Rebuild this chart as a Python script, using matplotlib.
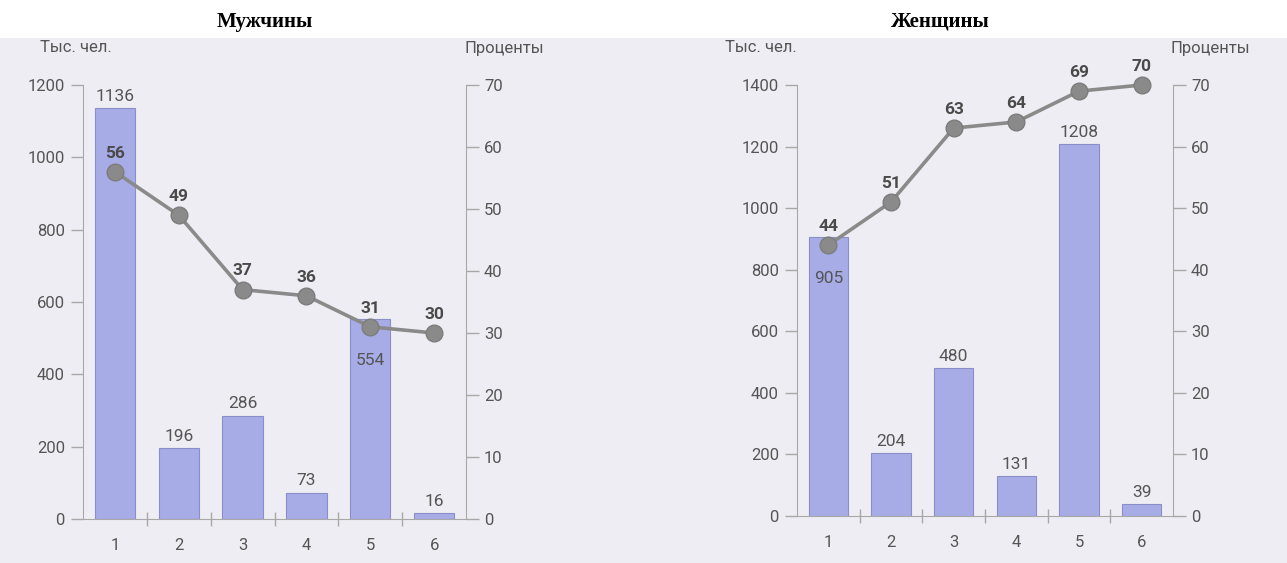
#!/usr/bin/env python3
"""Two-panel bar + line chart: men / women, thousands and percent."""

import matplotlib
matplotlib.use("Agg")
import matplotlib.pyplot as plt
from matplotlib.patches import Rectangle

W, H = 1287, 563

categories = ["1", "2", "3", "4", "5", "6"]

men_thousands = [1136, 196, 286, 73, 554, 16]
men_percent = [56, 49, 37, 36, 31, 30]
men_inside = [False, False, False, False, True, False]

women_thousands = [905, 204, 480, 131, 1208, 39]
women_percent = [44, 51, 63, 64, 69, 70]
women_inside = [True, False, False, False, False, False]

BAR = "#a7ace6"
BAR_EDGE = "#8a8fc8"
LINE = "#8a8a8a"
AXIS = "#a8a8a8"
TXT = "#555555"
BG = "#eeedf3"

FONT = ["Roboto", "DejaVu Sans"]
plt.rcParams["font.family"] = FONT


def px(x0, y_top, x1, y_bot):
    """pixel box -> figure fraction rect"""
    return [x0 / W, 1 - y_bot / H, (x1 - x0) / W, (y_bot - y_top) / H]


def panel(fig, rect, vals, pct, inside, ymax, title, title_x, lab_l, lab_r):
    ax = fig.add_axes(rect)
    ax.set_facecolor("none")
    x = list(range(1, len(vals) + 1))
    ax.bar(x, vals, 0.63, color=BAR, edgecolor=BAR_EDGE, linewidth=0.8, zorder=2)
    ax.set_xlim(0.5, len(vals) + 0.5)
    ax.set_ylim(0, ymax)
    ax.set_yticks(range(0, ymax + 1, 200))
    ax.set_xticks([i + 0.5 for i in x[:-1]])
    ax.set_xticklabels([])
    ax.set_xticks(x, minor=True)
    ax.set_xticklabels(categories, minor=True)
    ax.tick_params(axis="x", which="major", direction="inout", length=10,
                   color=AXIS, width=1)
    ax.tick_params(axis="x", which="minor", length=0, pad=14,
                   labelsize=12, labelcolor=TXT)
    ax.tick_params(axis="y", direction="out", length=9, color=AXIS,
                   width=1, labelsize=12, labelcolor=TXT, pad=4)
    for s in ("top", "right"):
        ax.spines[s].set_visible(False)
    for s in ("left", "bottom"):
        ax.spines[s].set_color(AXIS)

    ax2 = ax.twinx()
    ax2.set_ylim(0, 70)
    ax2.set_yticks(range(0, 71, 10))
    ax2.tick_params(axis="y", direction="out", length=9, color=AXIS,
                    width=1, labelsize=12, labelcolor=TXT, pad=4)
    for s in ("top", "left", "bottom"):
        ax2.spines[s].set_visible(False)
    ax2.spines["right"].set_color(AXIS)
    ax2.plot(x, pct, "-o", color=LINE, linewidth=2.6, markersize=12,
             markerfacecolor=LINE, markeredgecolor="#7c7c7c", zorder=4,
             clip_on=False)

    for xi, v, p, ins in zip(x, vals, pct, inside):
        ax2.annotate(f"{p}", (xi, p), xytext=(0, 8), textcoords="offset points",
                     ha="center", va="bottom", fontsize=12.5,
                     fontweight="bold", color="#4a4a4a")
        if ins:
            ax2.annotate(f"{v}", (xi, p), xytext=(0, -24),
                         textcoords="offset points", ha="center", va="center",
                         fontsize=12.5, color=TXT)
        else:
            ax.annotate(f"{v}", (xi, v), xytext=(0, 3),
                        textcoords="offset points", ha="center", va="bottom",
                        fontsize=12.5, color=TXT)

    fig.text(title_x / W, 1 - 22 / H, title, ha="center", va="center",
             fontsize=15, fontweight="bold", family="Liberation Serif")
    fig.text(lab_l / W, 1 - 48 / H, "Тыс. чел.", ha="left", va="center",
             fontsize=12, color=TXT)
    fig.text(lab_r / W, 1 - 48 / H, "Проценты", ha="left", va="center",
             fontsize=12, color=TXT)
    return ax


def main() -> int:
    fig = plt.figure(figsize=(W / 100, H / 100), dpi=100)
    fig.patch.set_facecolor("white")
    fig.add_artist(Rectangle((0, 0), 1, 1 - 38 / H, transform=fig.transFigure,
                             facecolor=BG, edgecolor="none", zorder=0))

    panel(fig, px(83, 85, 466, 519), men_thousands, men_percent, men_inside,
          1200, "Мужчины", 265, 40, 465)
    panel(fig, px(797, 85, 1173, 516), women_thousands, women_percent,
          women_inside, 1400, "Женщины", 940, 725, 1170)

    fig.savefig("out.png", dpi=100)
    plt.close(fig)
    return 0


if __name__ == "__main__":
    raise SystemExit(main())
